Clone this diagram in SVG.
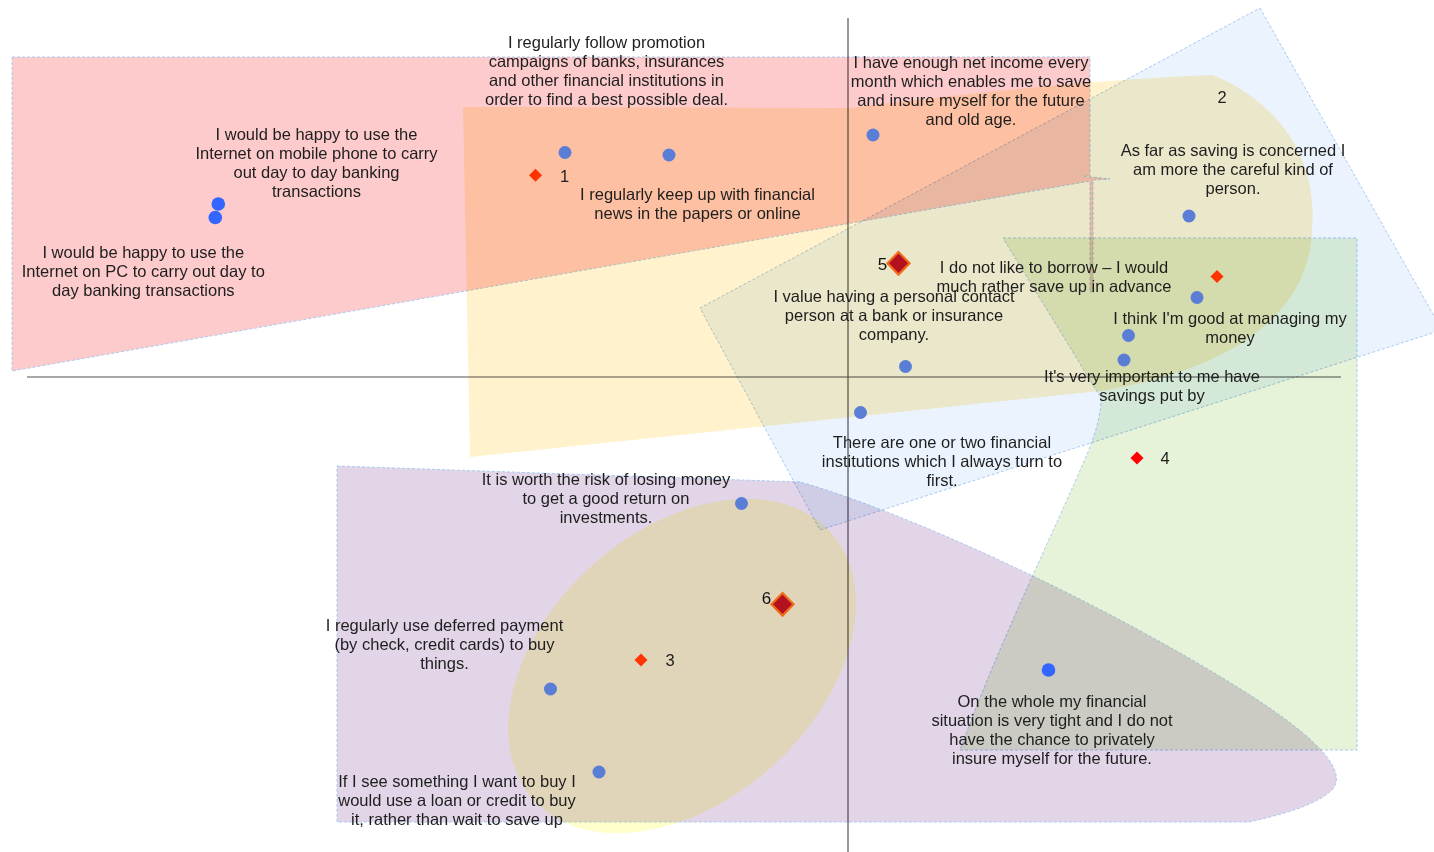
<svg xmlns="http://www.w3.org/2000/svg" width="1434" height="852" viewBox="0 0 1434 852">
<style>
.region{mix-blend-mode:multiply;stroke:#a9c9ef;stroke-width:1;stroke-dasharray:3 2}
.plain{mix-blend-mode:multiply;stroke:none}
.axis{stroke:#555;stroke-width:1.2;fill:none}
text{font-family:"Liberation Sans",Arial,sans-serif;font-size:16.5px;fill:#1e1e1e;text-anchor:middle}
.lbl{font-size:17px;fill:#111}
.dot{fill:#5a7dd6}
.dotb{fill:#3366ff}
.dm{fill:#ff3300}
.dmr{fill:#ff0000}
.big{fill:#b3111e;stroke:#f26a1b;stroke-width:2.2}
</style>
<rect x="0" y="0" width="1434" height="852" fill="#ffffff"/>
<g id="axes">
<line class="axis" x1="27" y1="377" x2="1341" y2="377"/>
<line class="axis" x1="848" y1="18" x2="848" y2="852"/>
</g>
<g id="regions">
<polygon id="r-pink" class="region" fill="#fdcbcb" points="12,57 1090,57 1090,176 1083,176 1110,179 1093,180 1093,292 1090,292 1090,181 12,371"/>
<path id="r-yellow" class="plain" fill="#fff2cc" d="M463,107 L850,108 C950,96 1080,80 1213,75 C1285,105 1318,165 1312,230 C1310,305 1245,368 1100,391 L470,457 Z"/>
<polygon id="r-blue" class="region" fill="#ebf4fe" points="1260,8 1442,330 820,530 700,308"/>
<path id="r-green" class="region" fill="#e6f3d9" d="M1003,238 L1357,238 L1357,750 L960,750 C1000,640 1055,530 1088,452 Q1101,420 1101,398 Z"/>
<path id="r-purple" class="region" fill="#e1d5e7" d="M337,466 L800,482 C900,510 1100,600 1250,695 C1320,740 1348,772 1332,790 C1315,806 1280,815 1249,822 L337,822 Z"/>
<ellipse id="r-ellipse" class="plain" fill="#ffffcc" cx="682" cy="666" rx="200" ry="135" transform="rotate(-42 682 666)"/>
</g>
<g id="points">
<circle class="dot" cx="565" cy="152.5" r="6.5"/>
<circle class="dot" cx="669" cy="155" r="6.5"/>
<circle class="dot" cx="873" cy="135" r="6.5"/>
<circle class="dot" cx="1189" cy="216" r="6.5"/>
<circle class="dot" cx="1197" cy="297.5" r="6.5"/>
<circle class="dot" cx="1128.5" cy="335.5" r="6.5"/>
<circle class="dot" cx="1124" cy="360" r="6.5"/>
<circle class="dot" cx="905.5" cy="366.5" r="6.5"/>
<circle class="dot" cx="860.5" cy="412.5" r="6.5"/>
<circle class="dot" cx="741.5" cy="503.5" r="6.5"/>
<circle class="dot" cx="550.5" cy="689" r="6.5"/>
<circle class="dot" cx="599" cy="772" r="6.5"/>
<circle class="dotb" cx="218.3" cy="204" r="6.8"/>
<circle class="dotb" cx="215.3" cy="217.5" r="6.8"/>
<circle class="dotb" cx="1048.5" cy="670" r="6.8"/>
</g>
<g id="clusters">
<g id="c1"><polygon class="dm" points="535.5,168.8 542,175.3 535.5,181.8 529,175.3"/><text x="564.5" y="181.5">1</text></g>
<g id="c2"><polygon class="dm" points="1217,270 1223.5,276.5 1217,283 1210.5,276.5"/><text x="1222" y="102.5">2</text></g>
<g id="c3"><polygon class="dm" points="641,653.5 647.5,660 641,666.5 634.5,660"/><text x="670" y="665.5">3</text></g>
<g id="c4"><polygon class="dmr" points="1137,451.5 1143.5,458 1137,464.5 1130.5,458"/><text x="1165" y="463.5">4</text></g>
<g id="c5"><polygon class="big" points="898.5,252 909.5,263.3 898.5,274.6 887.5,263.3"/><text class="lbl" x="882.5" y="269.5">5</text></g>
<g id="c6"><polygon class="big" points="782.5,593 793.5,604.3 782.5,615.6 771.5,604.3"/><text class="lbl" x="766.5" y="603.5">6</text></g>
</g>
<g id="statements">
<g id="s-promotion"><text x="606.5" y="47.5">I regularly follow promotion</text><text x="606.5" y="66.7">campaigns of banks, insurances</text><text x="606.5" y="85.9">and other financial institutions in</text><text x="606.5" y="105.1">order to find a best possible deal.</text></g>
<g id="s-income"><text x="971" y="67.5">I have enough net income every</text><text x="971" y="86.7">month which enables me to save</text><text x="971" y="105.9">and insure myself for the future</text><text x="971" y="125.1">and old age.</text></g>
<g id="s-mobile"><text x="316.5" y="139.5">I would be happy to use the</text><text x="316.5" y="158.7">Internet on mobile phone to carry</text><text x="316.5" y="177.9">out day to day banking</text><text x="316.5" y="197.1">transactions</text></g>
<g id="s-news"><text x="697.5" y="199.5">I regularly keep up with financial</text><text x="697.5" y="218.7">news in the papers or online</text></g>
<g id="s-careful"><text x="1233" y="155.5">As far as saving is concerned I</text><text x="1233" y="174.7">am more the careful kind of</text><text x="1233" y="193.9">person.</text></g>
<g id="s-pc"><text x="143.3" y="257.8">I would be happy to use the</text><text x="143.3" y="277">Internet on PC to carry out day to</text><text x="143.3" y="296.2">day banking transactions</text></g>
<g id="s-borrow"><text x="1054" y="272.5">I do not like to borrow – I would</text><text x="1054" y="291.7">much rather save up in advance</text></g>
<g id="s-contact"><text x="894" y="301.5">I value having a personal contact</text><text x="894" y="320.7">person at a bank or insurance</text><text x="894" y="339.9">company.</text></g>
<g id="s-managing"><text x="1230" y="323.5">I think I'm good at managing my</text><text x="1230" y="342.7">money</text></g>
<g id="s-savings"><text x="1152" y="381.5">It's very important to me have</text><text x="1152" y="400.7">savings put by</text></g>
<g id="s-institutions"><text x="942" y="447.5">There are one or two financial</text><text x="942" y="466.7">institutions which I always turn to</text><text x="942" y="485.9">first.</text></g>
<g id="s-risk"><text x="606" y="484.5">It is worth the risk of losing money</text><text x="606" y="503.7">to get a good return on</text><text x="606" y="522.9">investments.</text></g>
<g id="s-deferred"><text x="444.5" y="630.5">I regularly use deferred payment</text><text x="444.5" y="649.7">(by check, credit cards) to buy</text><text x="444.5" y="668.9">things.</text></g>
<g id="s-tight"><text x="1052" y="706.5">On the whole my financial</text><text x="1052" y="725.7">situation is very tight and I do not</text><text x="1052" y="744.9">have the chance to privately</text><text x="1052" y="764.1">insure myself for the future.</text></g>
<g id="s-loan"><text x="457" y="786.5">If I see something I want to buy I</text><text x="457" y="805.7">would use a loan or credit to buy</text><text x="457" y="824.9">it, rather than wait to save up</text></g>
</g>
<g id="connectors"></g>
</svg>
